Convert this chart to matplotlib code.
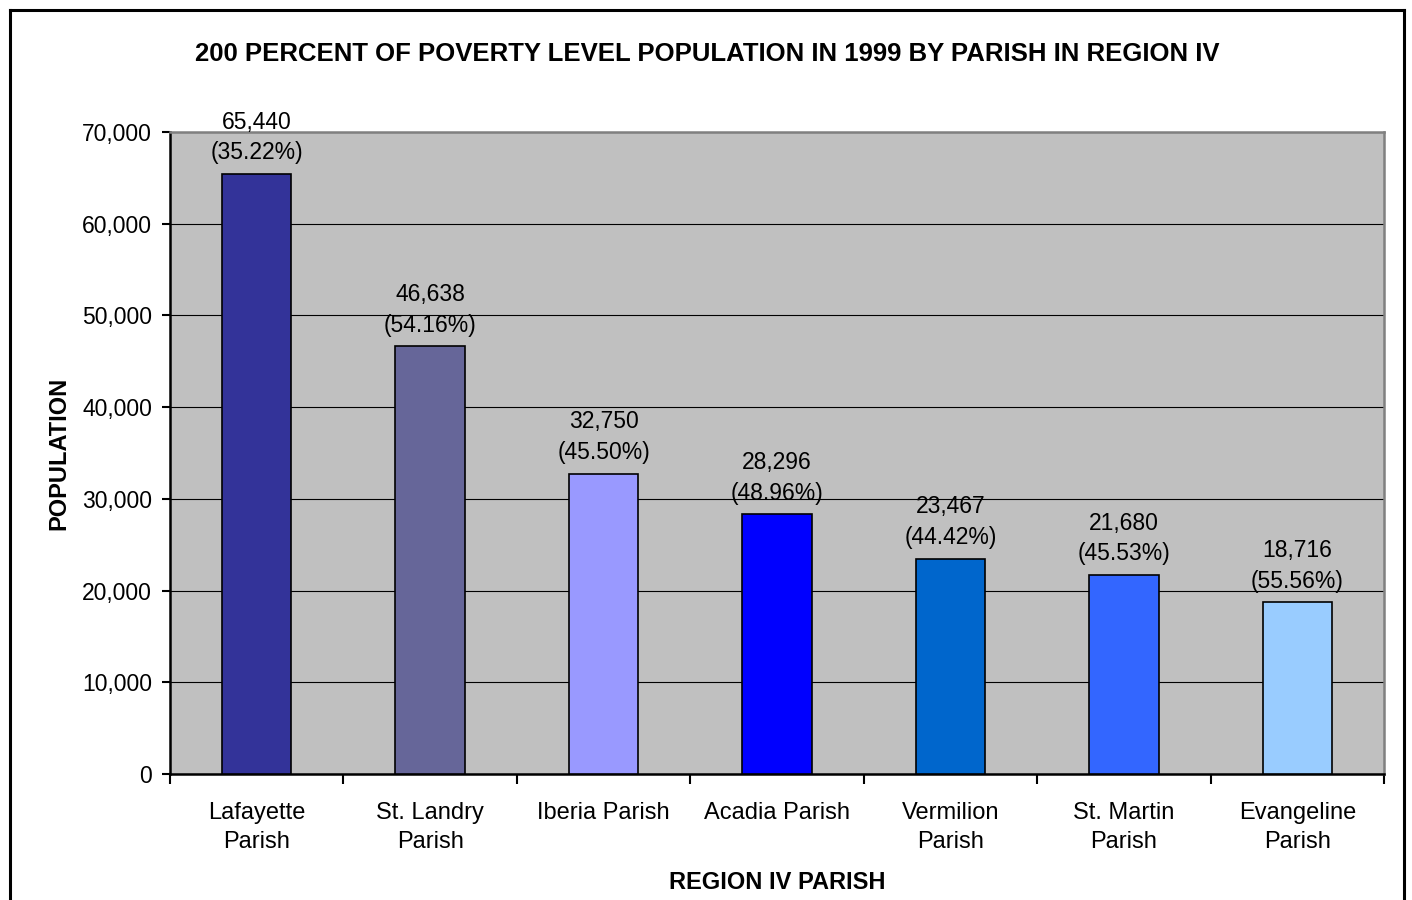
import matplotlib
matplotlib.use("Agg")
import matplotlib.pyplot as plt
from matplotlib.lines import Line2D
import numpy as np

plt.rcParams['font.family'] = ['Liberation Sans', 'DejaVu Sans']

categories = ["Lafayette\nParish", "St. Landry\nParish", "Iberia Parish", "Acadia Parish",
              "Vermilion\nParish", "St. Martin\nParish", "Evangeline\nParish"]
population = [65440, 46638, 32750, 28296, 23467, 21680, 18716]
percent = [35.22, 54.16, 45.50, 48.96, 44.42, 45.53, 55.56]
colors = ["#333399", "#666699", "#9999FF", "#0000FF", "#0066CC", "#3366FF", "#99CCFF"]
yticks = [0, 10000, 20000, 30000, 40000, 50000, 60000, 70000]

W, H = 1412, 900
fig = plt.figure(figsize=(W / 100, H / 100), dpi=100)
fig.patch.set_facecolor("white")
ax = fig.add_axes([170 / W, 1 - 774 / H, (1384 - 170) / W, (774 - 132) / H])
ax.set_facecolor("#C0C0C0")

x = np.arange(len(categories))
ax.bar(x, population, width=0.40, color=colors, edgecolor="black", linewidth=1.2, zorder=3)

for xi, v, p in zip(x, population, percent):
    ax.annotate(f"{v:,}\n({p:.2f}%)", (xi, v), xytext=(0, 7), textcoords="offset points",
                ha="center", va="bottom", fontsize=16.5, linespacing=1.42, zorder=4)

ax.set_xlim(-0.5, len(categories) - 0.5)
ax.set_ylim(0, 70000)
ax.set_yticks(yticks)
ax.set_yticklabels([f"{t:,}" for t in yticks], fontsize=16.5)
ax.yaxis.grid(True, color="black", linewidth=0.8, zorder=1)
ax.set_axisbelow(True)

ax.set_xticks(x)
ax.set_xticklabels(categories, fontsize=17, linespacing=1.42)
ax.tick_params(axis="x", which="major", length=0, pad=20)
ax.set_xticks(np.arange(-0.5, len(categories)), minor=True)
ax.tick_params(axis="x", which="minor", length=7, width=1.5, direction="out")
ax.tick_params(axis="y", length=6, width=1.5, direction="out", pad=7)

for s in ["left", "bottom"]:
    ax.spines[s].set_color("black")
    ax.spines[s].set_linewidth(1.8)
for s in ["top", "right"]:
    ax.spines[s].set_color("#808080")
    ax.spines[s].set_linewidth(1.8)

ax.set_ylabel("POPULATION", fontsize=17, fontweight="bold", labelpad=8)
ax.set_xlabel("REGION IV PARISH", fontsize=17, fontweight="bold", labelpad=13)

fig.text(707 / W, 1 - 54 / H, "200 PERCENT OF POVERTY LEVEL POPULATION IN 1999 BY PARISH IN REGION IV",
         ha="center", va="center", fontsize=18.5, fontweight="bold")

# outer chart border (bottom edge lies outside the image)
bx0, bx1, by0 = 10 / W, 1404 / W, 1 - 10 / H
for xs, ys in [((bx0, bx0), (by0, -0.05)), ((bx1, bx1), (by0, -0.05)), ((bx0, bx1), (by0, by0))]:
    fig.add_artist(Line2D(xs, ys, transform=fig.transFigure, color="black", linewidth=2.2))

fig.savefig("out.png", dpi=100)
